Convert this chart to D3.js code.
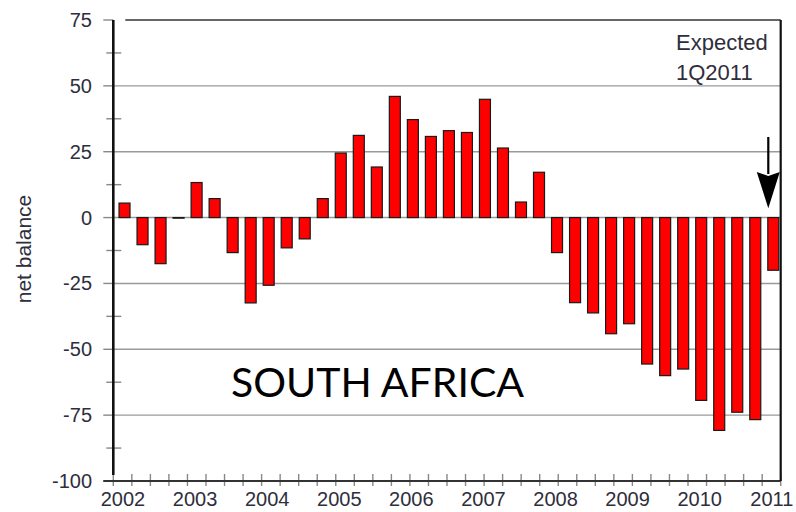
<!DOCTYPE html>
<html>
<head>
<meta charset="utf-8">
<script src="https://cdn.jsdelivr.net/npm/d3@7"></script>
<style>
  html, body { margin: 0; padding: 0; background: #fff; }
  svg { display: block; }
</style>
</head>
<body>
<svg id="chart" width="796" height="512"></svg>
<script>
// ---- data ----
const quarters = [
  "2002Q1","2002Q2","2002Q3","2002Q4",
  "2003Q1","2003Q2","2003Q3","2003Q4",
  "2004Q1","2004Q2","2004Q3","2004Q4",
  "2005Q1","2005Q2","2005Q3","2005Q4",
  "2006Q1","2006Q2","2006Q3","2006Q4",
  "2007Q1","2007Q2","2007Q3","2007Q4",
  "2008Q1","2008Q2","2008Q3","2008Q4",
  "2009Q1","2009Q2","2009Q3","2009Q4",
  "2010Q1","2010Q2","2010Q3","2010Q4",
  "2011Q1"
];
const netBalance = [
  5.5, -10.3, -17.5, 0,
  13.3, 7.2, -13.3, -32.4,
  -25.7, -11.5, -8.1, 7.2,
  24.5, 31.2, 19.2, 46,
  37.2, 30.8, 33, 32.3,
  44.9, 26.4, 5.9, 17.2,
  -13.3, -32.3, -36.2, -44.1,
  -40.3, -55.6, -60, -57.5,
  -69.4, -80.8, -73.9, -76.7,
  -20
];
const yearLabels = ["2002","2003","2004","2005","2006","2007","2008","2009","2010","2011"];
const yTicks = [75, 50, 25, 0, -25, -50, -75, -100];
const yMinorTicks = [62.5, 37.5, 12.5, -12.5, -37.5, -62.5, -87.5];
const annotationLines = ["Expected", "1Q2011"];
const arrowValues = { top: 30.6, headTop: 17.3, tip: 3.5 };
const titleText = "SOUTH AFRICA";
const yAxisTitle = "net balance";

// ---- layout ----
const svg = d3.select("#chart");
const axisFont = "'Liberation Sans', Arial, sans-serif";
const textColor = "#2e2e3c";

const y = d3.scaleLinear().domain([-100, 75]).range([481, 20]);
const xTick = d3.scaleLinear().domain([2002, 2011]).range([113.3, 780.7]);
const xBar = d3.scaleBand().domain(quarters).range([115.5, 782.3])
  .paddingInner(0.39).paddingOuter(0.195);

const left = xTick(2002), right = xTick(2011);

// gridlines
svg.append("g").selectAll("line").data(yTicks.filter(d => d > -100 && d < 75)).join("line")
  .attr("x1", left).attr("x2", right)
  .attr("y1", d => y(d)).attr("y2", d => y(d))
  .attr("stroke", "#9a9a9a").attr("stroke-width", 1.4);

// top border
svg.append("line")
  .attr("x1", left + 12).attr("x2", right)
  .attr("y1", y(75)).attr("y2", y(75))
  .attr("stroke", "#333").attr("stroke-width", 1.4);

// major y ticks (left of axis)
svg.append("g").selectAll("line").data(yTicks).join("line")
  .attr("x1", left - 10).attr("x2", left)
  .attr("y1", d => y(d)).attr("y2", d => y(d))
  .attr("stroke", "#888").attr("stroke-width", 1.4);

// minor y ticks (crossing axis)
svg.append("g").selectAll("line").data(yMinorTicks).join("line")
  .attr("x1", left - 7).attr("x2", left + 8)
  .attr("y1", d => y(d)).attr("y2", d => y(d))
  .attr("stroke", "#888").attr("stroke-width", 1.4);

// x quarter ticks
const qTicks = d3.range(0, 37).map(i => 2002 + i / 4);
svg.append("g").selectAll("line").data(qTicks).join("line")
  .attr("x1", d => xTick(d)).attr("x2", d => xTick(d))
  .attr("y1", y(-100) - 7).attr("y2", y(-100) + 5)
  .attr("stroke", "#888").attr("stroke-width", 1.4);

// bars
svg.append("g").selectAll("rect").data(quarters).join("rect")
  .attr("x", d => xBar(d))
  .attr("width", xBar.bandwidth())
  .attr("y", (d, i) => Math.min(y(netBalance[i]), y(0)))
  .attr("height", (d, i) => Math.max(Math.abs(y(netBalance[i]) - y(0)), 0.6))
  .attr("fill", "#ff0000")
  .attr("stroke", "#1a1a1a").attr("stroke-width", 1.2);

// baseline
svg.append("line")
  .attr("x1", left - 10).attr("x2", right)
  .attr("y1", y(-100)).attr("y2", y(-100))
  .attr("stroke", "#333").attr("stroke-width", 1.8);

// left axis
svg.append("line")
  .attr("x1", left).attr("x2", left)
  .attr("y1", y(75)).attr("y2", y(-100) - 6)
  .attr("stroke", "#111").attr("stroke-width", 2.6);

// right axis
svg.append("line")
  .attr("x1", right).attr("x2", right)
  .attr("y1", y(75)).attr("y2", y(-100))
  .attr("stroke", "#111").attr("stroke-width", 2.2);

// y tick labels
svg.append("g").selectAll("text").data(yTicks).join("text")
  .attr("x", 92).attr("y", d => y(d) + 7)
  .attr("text-anchor", "end")
  .attr("font-family", axisFont).attr("font-size", 20)
  .attr("fill", textColor)
  .text(d => d);

// year labels
svg.append("g").selectAll("text").data(yearLabels).join("text")
  .attr("x", d => xBar(d + "Q1") + xBar.bandwidth() / 2 - 1.5)
  .attr("y", 505.5)
  .attr("text-anchor", "middle")
  .attr("font-family", axisFont).attr("font-size", 20)
  .attr("fill", textColor)
  .text(d => d);

// y-axis title
svg.append("text")
  .attr("transform", `translate(31,${249}) rotate(-90)`)
  .attr("text-anchor", "middle")
  .attr("font-family", axisFont).attr("font-size", 21)
  .attr("fill", textColor)
  .text(yAxisTitle);

// annotation
svg.append("g").selectAll("text").data(annotationLines).join("text")
  .attr("x", 676).attr("y", (d, i) => 50 + i * 30)
  .attr("font-family", axisFont).attr("font-size", 22)
  .attr("fill", textColor)
  .text(d => d);

// arrow
const lastQ = quarters[quarters.length - 1];
const ax = xBar(lastQ) + xBar.bandwidth() / 2 - 5;
svg.append("line")
  .attr("x1", ax).attr("x2", ax)
  .attr("y1", y(arrowValues.top)).attr("y2", y(arrowValues.headTop) + 2)
  .attr("stroke", "#000").attr("stroke-width", 2.2);
const hw = 11.5;
svg.append("path")
  .attr("d", `M${ax - hw},${y(arrowValues.headTop)} L${ax},${y(arrowValues.headTop) + 4} L${ax + hw},${y(arrowValues.headTop)} L${ax},${y(arrowValues.tip)} Z`)
  .attr("fill", "#000");

// title
svg.append("text")
  .attr("x", 231).attr("y", 396.5)
  .attr("font-family", "Lato, 'Open Sans', sans-serif").attr("font-size", 41)
  .attr("fill", "#000")
  .text(titleText);
</script>
</body>
</html>
